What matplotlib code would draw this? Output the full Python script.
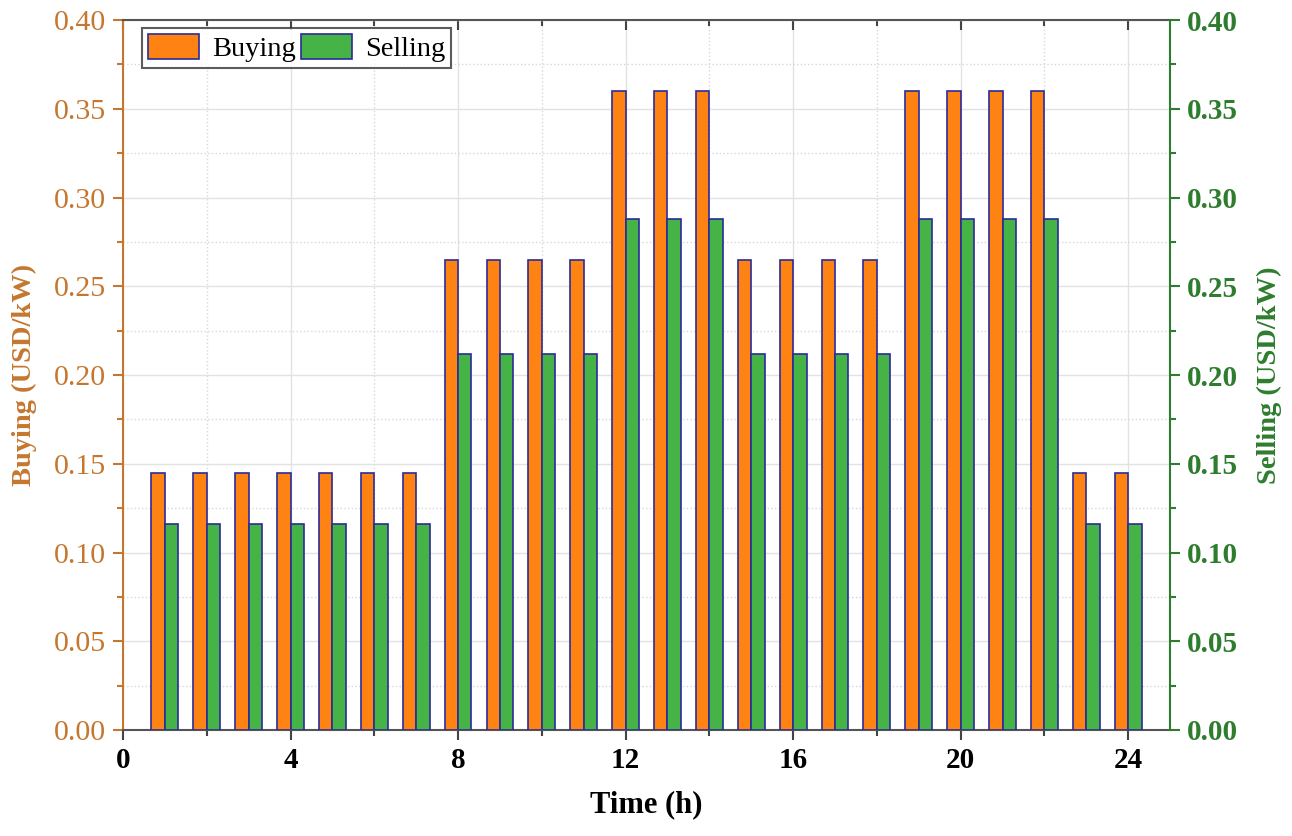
import matplotlib
matplotlib.use('Agg')
import matplotlib.pyplot as plt
from matplotlib.ticker import MultipleLocator, FormatStrFormatter

hours = list(range(1, 25))
buying = [0.145] * 7 + [0.265] * 4 + [0.36] * 3 + [0.265] * 4 + [0.36] * 4 + [0.145] * 2
selling = [0.116] * 7 + [0.212] * 4 + [0.288] * 3 + [0.212] * 4 + [0.288] * 4 + [0.116] * 2

ORANGE = '#FF8313'
GREEN = '#46B347'
EDGE = '#2B2B9A'
LEFT_C = '#C5772F'
RIGHT_C = '#2E7D2E'

plt.rcParams['font.family'] = ['Liberation Serif', 'DejaVu Serif']

fig = plt.figure(figsize=(12.92, 8.36), dpi=100)
ax = fig.add_axes([0.0952, 0.1268, 0.8104, 0.8492])
ax2 = ax.twinx()

w = 0.32
b1 = ax.bar(hours, buying, width=-w, align='edge', color=ORANGE, edgecolor=EDGE, linewidth=1.2, label='Buying', zorder=3)
b2 = ax2.bar(hours, selling, width=w, align='edge', color=GREEN, edgecolor=EDGE, linewidth=1.2, label='Selling', zorder=3)

for a in (ax, ax2):
    a.set_ylim(0, 0.40)
    a.yaxis.set_major_locator(MultipleLocator(0.05))
    a.yaxis.set_minor_locator(MultipleLocator(0.025))
    a.yaxis.set_major_formatter(FormatStrFormatter('%.2f'))
ax.set_xlim(0, 25)
ax.xaxis.set_major_locator(MultipleLocator(4))
ax.xaxis.set_minor_locator(MultipleLocator(2))

ax.set_axisbelow(True)
ax.grid(which='major', color='#e2e2e2', linestyle='-', linewidth=1.0)
ax.grid(which='minor', color='#d8d8d8', linestyle=':', linewidth=1.0)

# spines
ax.spines['left'].set_color(LEFT_C)
ax.spines['right'].set_visible(False)
ax.spines['top'].set_color('#555555')
ax.spines['bottom'].set_color('#555555')
ax2.spines['right'].set_color(RIGHT_C)
ax2.spines['left'].set_visible(False)
ax2.spines['top'].set_visible(False)
ax2.spines['bottom'].set_visible(False)
for s in ('left', 'top', 'bottom'):
    ax.spines[s].set_linewidth(1.5)
ax2.spines['right'].set_linewidth(1.5)

# ticks
ax.tick_params(axis='y', which='major', direction='out', length=7, width=1.5, color=LEFT_C,
               labelcolor=LEFT_C, labelsize=21.5, pad=5)
ax.tick_params(axis='y', which='minor', direction='out', length=4, width=1.5, color=LEFT_C)
ax.tick_params(axis='x', which='major', direction='out', length=7, width=1.5, color='#444444',
               labelsize=21, top=True, pad=5)
ax.tick_params(axis='x', which='minor', direction='out', length=4, width=1.5, color='#444444', top=True)
for t in ax.xaxis.get_major_ticks() + ax.xaxis.get_minor_ticks():
    t.tick2line.set_marker(3)
for lab in ax.get_xticklabels():
    lab.set_fontweight('bold')

ax2.tick_params(axis='y', which='major', direction='out', length=7, width=1.5, color=RIGHT_C,
                labelcolor=RIGHT_C, labelsize=21, pad=5)
ax2.tick_params(axis='y', which='minor', direction='out', length=4, width=1.5, color=RIGHT_C)
for lab in ax2.get_yticklabels():
    lab.set_fontweight('bold')

ax.set_xlabel('Time (h)', fontsize=22, fontweight='bold', labelpad=12)
ax.set_ylabel('Buying (USD/kW)', fontsize=20.5, fontweight='bold', color=LEFT_C, labelpad=12)
ax2.set_ylabel('Selling (USD/kW)', fontsize=20.5, fontweight='bold', color=RIGHT_C, labelpad=14)

leg = ax2.legend([b1, b2], ['Buying', 'Selling'], loc='upper left', bbox_to_anchor=(0.014, 0.995),
                 ncol=2, fontsize=20.5, frameon=True, fancybox=False, edgecolor='#333333',
                 handlelength=1.8, handleheight=1.0, columnspacing=0.2, handletextpad=0.45,
                 borderpad=0.2, borderaxespad=0.15)
leg.get_frame().set_linewidth(1.5)

fig.savefig('out.png', dpi=100)
